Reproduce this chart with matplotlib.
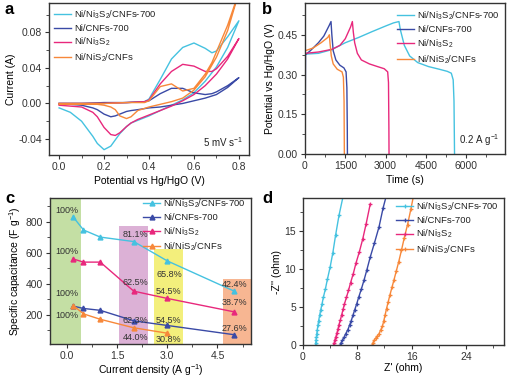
import matplotlib
matplotlib.use("Agg")
import matplotlib.pyplot as plt
from matplotlib.ticker import MultipleLocator

plt.rcParams['font.family'] = ['Liberation Sans', 'DejaVu Sans']
plt.rcParams['mathtext.fontset'] = 'custom'
plt.rcParams['mathtext.rm'] = 'Liberation Sans'
plt.rcParams['mathtext.default'] = 'regular'
plt.rcParams['font.size'] = 7.5
plt.rcParams['axes.edgecolor'] = '#333333'
plt.rcParams['text.color'] = '#222222'
plt.rcParams['xtick.color'] = '#333333'
plt.rcParams['ytick.color'] = '#333333'

names = ["Ni/Ni$_3$S$_2$/CNFs-700", "Ni/CNFs-700", "Ni/Ni$_3$S$_2$", "Ni/NiS$_2$/CNFs"]
colors = ["#45c2e0", "#3a4aa6", "#e8287c", "#f7883a"]

# ---- (a) CV curves: forward (anodic) and return (cathodic) sweeps
cv_fwd_v = [0.0, 0.1, 0.2, 0.3, 0.38, 0.4, 0.45, 0.5, 0.55, 0.6, 0.65, 0.68, 0.7, 0.75, 0.8]
cv_fwd = [
    [0.000, 0.000, 0.000, 0.001, 0.002, 0.005, 0.027, 0.050, 0.063, 0.068, 0.062, 0.057, 0.059, 0.075, 0.093],
    [0.000, 0.000, 0.001, 0.001, 0.002, 0.003, 0.011, 0.017, 0.017, 0.012, 0.010, 0.011, 0.013, 0.020, 0.029],
    [0.000, 0.000, 0.000, 0.001, 0.002, 0.004, 0.022, 0.036, 0.044, 0.042, 0.036, 0.036, 0.039, 0.053, 0.073],
    [0.000, 0.000, 0.000, 0.001, 0.001, 0.003, 0.019, 0.022, 0.014, 0.017, 0.033, 0.046, 0.058, 0.088, 0.125],
]
cv_rev_v = [0.8, 0.75, 0.7, 0.65, 0.6, 0.55, 0.5, 0.45, 0.4, 0.35, 0.32, 0.3, 0.27, 0.25, 0.23, 0.2, 0.17, 0.15, 0.1, 0.05, 0.0]
cv_rev = [
    [0.093, 0.063, 0.041, 0.025, 0.012, 0.004, -0.002, -0.008, -0.014, -0.019, -0.022, -0.026, -0.034, -0.041, -0.048, -0.052, -0.045, -0.037, -0.020, -0.010, -0.005],
    [0.029, 0.018, 0.010, 0.006, 0.003, 0.000, -0.002, -0.004, -0.005, -0.007, -0.008, -0.009, -0.012, -0.014, -0.015, -0.012, -0.007, -0.005, -0.002, -0.001, -0.001],
    [0.073, 0.050, 0.033, 0.020, 0.010, 0.003, -0.003, -0.008, -0.013, -0.018, -0.022, -0.026, -0.033, -0.036, -0.035, -0.027, -0.015, -0.010, -0.004, -0.003, -0.002],
    [0.125, 0.082, 0.052, 0.030, 0.015, 0.006, 0.002, -0.001, -0.004, -0.008, -0.015, -0.017, -0.014, -0.007, -0.004, -0.002, -0.001, -0.001, -0.001, -0.001, -0.001],
]

# ---- (b) galvanostatic charge-discharge
gcd_t = [
    [0, 10, 500, 1000, 1500, 2000, 2500, 3000, 3300, 3500, 3550, 3700, 3900, 4200, 4600, 5000, 5300, 5450, 5520, 5550, 5570],
    [0, 20, 200, 500, 700, 900, 969, 1000, 1050, 1150, 1300, 1450, 1530, 1560, 1575, 1580],
    [0, 10, 500, 1000, 1300, 1500, 1700, 1764, 1800, 1850, 1950, 2100, 2400, 2700, 2950, 3080, 3110, 3125, 3130],
    [0, 10, 300, 600, 850, 907, 930, 980, 1050, 1200, 1380, 1430, 1455, 1466],
]
gcd_v = [
    [0.0, 0.377, 0.380, 0.394, 0.420, 0.440, 0.462, 0.483, 0.495, 0.500, 0.470, 0.410, 0.370, 0.345, 0.330, 0.320, 0.312, 0.305, 0.280, 0.200, 0.0],
    [0.0, 0.375, 0.390, 0.420, 0.445, 0.485, 0.500, 0.450, 0.390, 0.355, 0.335, 0.325, 0.310, 0.250, 0.100, 0.0],
    [0.0, 0.380, 0.385, 0.395, 0.410, 0.435, 0.480, 0.500, 0.460, 0.420, 0.380, 0.355, 0.340, 0.330, 0.322, 0.310, 0.270, 0.100, 0.0],
    [0.0, 0.390, 0.400, 0.420, 0.440, 0.450, 0.420, 0.370, 0.340, 0.320, 0.310, 0.290, 0.200, 0.0],
]

# ---- (c) rate capability
rate_j = [0.2, 0.5, 1.0, 2.0, 3.0, 5.0]
rate_c = [
    [830, 748, 702, 673, 548, 352],
    [255, 240, 228, 160, 130, 70],
    [560, 540, 540, 352, 305, 218],
    [258, 205, 170, 115, 80],
]
bands = [(-0.5, 0.42, 960, "#c4dfa4"), (1.55, 2.42, 772, "#dcb1d6"),
         (2.6, 3.46, 622, "#f3ef7c"), (4.65, 5.5, 432, "#f7b692")]
pct_labels = ["100%", "100%", "100%", "100%", "81.1%", "65.8%", "42.4%", "62.5%", "54.5%",
              "38.7%", "62.3%", "54.5%", "27.6%", "44.0%", "30.8%"]
pct_x = [0.0, 0.0, 0.0, 0.0, 2.05, 3.05, 5.0, 2.05, 3.05, 5.0, 2.05, 3.05, 5.0, 2.05, 3.05]
pct_y = [875, 610, 335, 195, 720, 460, 395, 410, 350, 280, 160, 160, 110, 55, 40]

# ---- (d) Nyquist plots
eis_re = [
    [1.85, 1.88, 1.92, 1.97, 2.03, 2.1, 2.2, 2.3, 2.45, 2.6, 2.8, 3.0, 3.3, 3.6, 4.0, 4.4, 4.8, 5.3, 5.9],
    [5.5, 5.6, 5.8, 6.05, 6.3, 6.6, 6.85, 7.1, 7.35, 7.6, 7.9, 8.2, 8.6, 9.0, 9.4, 9.9, 10.5, 11.2, 11.8, 12.3],
    [4.5, 4.6, 4.7, 4.85, 5.0, 5.15, 5.3, 5.5, 5.7, 5.9, 6.1, 6.4, 6.7, 7.0, 7.4, 7.8, 8.3, 8.8, 9.3, 9.9],
    [10.2, 10.3, 10.45, 10.7, 10.95, 11.2, 11.45, 11.7, 11.9, 12.1, 12.3, 12.55, 12.8, 13.1, 13.4, 13.75, 14.1, 14.5, 14.9, 15.4, 15.9, 16.3],
]
eis_im = [
    [0.0, 0.3, 0.6, 1.0, 1.5, 2.0, 2.6, 3.2, 3.9, 4.6, 5.4, 6.3, 7.4, 8.7, 10.3, 12.2, 14.5, 17.1, 19.6],
    [0.0, 0.3, 0.6, 1.0, 1.5, 2.0, 2.6, 3.2, 3.9, 4.6, 5.4, 6.3, 7.4, 8.6, 9.9, 11.6, 13.4, 15.6, 18.1, 19.8],
    [0.0, 0.3, 0.7, 1.1, 1.6, 2.1, 2.7, 3.3, 4.0, 4.7, 5.4, 6.3, 7.2, 8.2, 9.4, 10.8, 12.3, 14.0, 16.0, 18.6],
    [0.0, 0.3, 0.6, 0.9, 1.2, 1.5, 2.0, 2.5, 3.2, 4.0, 4.8, 5.7, 6.6, 7.6, 8.6, 9.8, 11.0, 12.5, 14.1, 15.9, 18.0, 19.8],
]

fig = plt.figure(figsize=(5.1, 3.78), dpi=100)
W, H = 510.0, 378.0


def box(l, t, r, b):
    return [l / W, 1 - b / H, (r - l) / W, (b - t) / H]


ax_a = fig.add_axes(box(49, 3, 249, 155))
ax_b = fig.add_axes(box(305, 3, 505, 154))
ax_c = fig.add_axes(box(50, 198, 251, 344))
ax_d = fig.add_axes(box(303, 198, 504, 345))

for ax in (ax_a, ax_b, ax_c, ax_d):
    ax.tick_params(which='major', direction='out', length=3, width=0.8, top=False, right=False, pad=2)
    ax.tick_params(which='minor', direction='out', length=2, width=0.6, top=False, right=False)
    for s in ax.spines.values():
        s.set_linewidth(1.0)

legend_kw = dict(frameon=False, fontsize=6.8, handlelength=1.8, labelspacing=0.33,
                 handletextpad=0.3, borderaxespad=0.15)

# a
for i in range(4):
    ax_a.plot(cv_fwd_v + cv_rev_v, cv_fwd[i] + cv_rev[i], color=colors[i], lw=1.0, label=names[i])
ax_a.set_xlim(-0.045, 0.845)
ax_a.set_ylim(-0.058, 0.113)
ax_a.set_xticks([0.0, 0.2, 0.4, 0.6, 0.8])
ax_a.set_yticks([-0.04, 0.0, 0.04, 0.08])
ax_a.set_xticklabels(["0.0", "0.2", "0.4", "0.6", "0.8"])
ax_a.set_yticklabels(["-0.04", "0.00", "0.04", "0.08"])
ax_a.xaxis.set_minor_locator(MultipleLocator(0.1))
ax_a.yaxis.set_minor_locator(MultipleLocator(0.02))
ax_a.set_xlabel("Potential vs Hg/HgO (V)", labelpad=3)
ax_a.set_ylabel("Current (A)", labelpad=2)
ax_a.legend(loc='upper left', **legend_kw)
ax_a.text(0.97, 0.04, "5 mV s$^{-1}$", transform=ax_a.transAxes, ha='right', va='bottom', fontsize=7)

# b
for i in range(4):
    ax_b.plot(gcd_t[i], gcd_v[i], color=colors[i], lw=1.0, label=names[i])
ax_b.set_xlim(0, 7450)
ax_b.set_ylim(0, 0.57)
ax_b.set_xticks([0, 1500, 3000, 4500, 6000])
ax_b.set_yticks([0.0, 0.15, 0.30, 0.45])
ax_b.set_yticklabels(["0.00", "0.15", "0.30", "0.45"])
ax_b.xaxis.set_minor_locator(MultipleLocator(750))
ax_b.yaxis.set_minor_locator(MultipleLocator(0.075))
ax_b.set_xlabel("Time (s)", labelpad=3)
ax_b.set_ylabel("Potential vs Hg/HgO (V)", labelpad=2)
ax_b.legend(loc='upper right', bbox_to_anchor=(1.0, 0.99), **legend_kw)
ax_b.text(0.97, 0.04, "0.2 A g$^{-1}$", transform=ax_b.transAxes, ha='right', va='bottom', fontsize=7)

# c
for x0, x1, top, c in bands:
    ax_c.fill_between([x0, x1], 0, top, color=c, lw=0, zorder=0)
for i in range(4):
    n = len(rate_c[i])
    ax_c.plot(rate_j[:n], rate_c[i], color=colors[i], lw=1.0, marker='^', ms=3.5, label=names[i])
for s, x, y in zip(pct_labels, pct_x, pct_y):
    ax_c.text(x, y, s, ha='center', va='center', fontsize=6.5, color='#333333')
ax_c.set_xlim(-0.5, 5.5)
ax_c.set_ylim(10, 955)
ax_c.set_xticks([0.0, 1.5, 3.0, 4.5])
ax_c.set_yticks([200, 400, 600, 800])
ax_c.xaxis.set_minor_locator(MultipleLocator(0.75))
ax_c.yaxis.set_minor_locator(MultipleLocator(100))
ax_c.set_xlabel("Current density (A g$^{-1}$)", labelpad=1)
ax_c.set_ylabel("Specific capacitance (F g$^{-1}$)", labelpad=2)
ax_c.legend(loc='upper right', bbox_to_anchor=(1.0, 1.04), **legend_kw)

# d
for i in range(4):
    ax_d.plot(eis_re[i], eis_im[i], color=colors[i], lw=1.0, marker='P', ms=2.8,
              markeredgewidth=0, label=names[i])
ax_d.set_xlim(0, 29.6)
ax_d.set_ylim(0, 19.4)
ax_d.set_xticks([0, 8, 16, 24])
ax_d.set_yticks([0, 5, 10, 15])
ax_d.xaxis.set_minor_locator(MultipleLocator(4))
ax_d.yaxis.set_minor_locator(MultipleLocator(2.5))
ax_d.set_xlabel("Z' (ohm)", labelpad=1)
ax_d.set_ylabel("-Z'' (ohm)", labelpad=2)
ax_d.legend(loc='upper right', bbox_to_anchor=(1.0, 1.02), **legend_kw)

for letter, x, y in (('a', 5, 2), ('b', 262, 2), ('c', 5, 191), ('d', 262, 191)):
    fig.text(x / W, 1 - y / H, letter, fontsize=12, fontweight='bold', va='top', ha='left', color='black')

fig.savefig("out.png", dpi=100)
